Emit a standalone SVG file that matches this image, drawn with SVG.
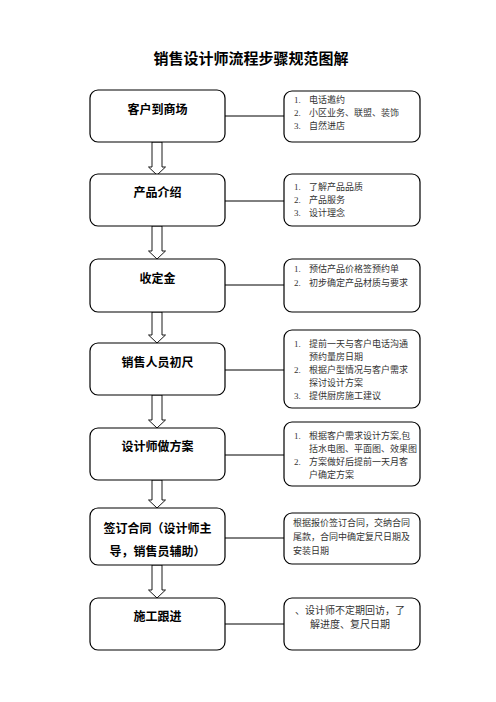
<svg xmlns="http://www.w3.org/2000/svg" width="496" height="702" viewBox="0 0 496 702">
<style>
.box{fill:#fff;stroke:#000;stroke-width:1.2}
.ln{stroke:#000;stroke-width:1;fill:none}
.arr{fill:#fff;stroke:#000;stroke-width:0.9;stroke-linejoin:miter}
.t{font-family:"Liberation Sans","Noto Sans CJK SC",sans-serif;font-weight:bold;font-size:12px;fill:#000;text-anchor:middle}
.r{font-family:"Liberation Serif","Noto Sans CJK SC",serif;font-size:9px;fill:#333}
.title{font-family:"Liberation Sans","Noto Sans CJK SC",sans-serif;font-weight:bold;font-size:15px;text-anchor:middle;fill:#000}
</style>
<rect width="496" height="702" fill="#fff"/>
<text class="title" x="251" y="64">销售设计师流程步骤规范图解</text>
<g id="connectors">
<line class="ln" x1="225" y1="116" x2="284" y2="116"/>
<line class="ln" x1="225" y1="201" x2="284" y2="201"/>
<line class="ln" x1="225" y1="285" x2="284" y2="285"/>
<line class="ln" x1="225" y1="370" x2="284" y2="370"/>
<line class="ln" x1="225" y1="455" x2="284" y2="455"/>
<line class="ln" x1="225" y1="538" x2="284" y2="538"/>
<line class="ln" x1="225" y1="624" x2="284" y2="624"/>
<path class="arr" d="M152,142 V167 H148.5 L157,175 L165.5,167 H162 V142 Z"/>
<path class="arr" d="M152,226 V251 H148.5 L157,259 L165.5,251 H162 V226 Z"/>
<path class="arr" d="M152,312 V335 H148.5 L157,343 L165.5,335 H162 V312 Z"/>
<path class="arr" d="M152,395 V420 H148.5 L157,428 L165.5,420 H162 V395 Z"/>
<path class="arr" d="M152,480 V500 H148.5 L157,508 L165.5,500 H162 V480 Z"/>
<path class="arr" d="M152,565 V590 H148.5 L157,598 L165.5,590 H162 V565 Z"/>
</g>
<g id="n1">
<rect class="box" x="90" y="90" width="135" height="52" rx="8"/>
<text class="t" x="157.5" y="114">客户到商场</text>
</g>
<g id="d1">
<rect class="box" x="284" y="91" width="136" height="51" rx="8"/>
<text class="r" x="294" y="103">1.</text><text class="r" x="309" y="103">电话邀约</text>
<text class="r" x="294" y="116">2.</text><text class="r" x="309" y="116">小区业务、联盟、装饰</text>
<text class="r" x="294" y="129">3.</text><text class="r" x="309" y="129">自然进店</text>
</g>
<g id="n2">
<rect class="box" x="90" y="174" width="135" height="52" rx="8"/>
<text class="t" x="157.5" y="197">产品介绍</text>
</g>
<g id="d2">
<rect class="box" x="284" y="174" width="136" height="52" rx="8"/>
<text class="r" x="294" y="190">1.</text><text class="r" x="309" y="190">了解产品品质</text>
<text class="r" x="294" y="203">2.</text><text class="r" x="309" y="203">产品服务</text>
<text class="r" x="294" y="216">3.</text><text class="r" x="309" y="216">设计理念</text>
</g>
<g id="n3">
<rect class="box" x="90" y="259" width="135" height="53" rx="8"/>
<text class="t" x="157.5" y="283">收定金</text>
</g>
<g id="d3">
<rect class="box" x="284" y="259" width="136" height="53" rx="8"/>
<text class="r" x="294" y="272">1.</text><text class="r" x="309" y="272">预估产品价格签预约单</text>
<text class="r" x="294" y="286">2.</text><text class="r" x="309" y="286">初步确定产品材质与要求</text>
</g>
<g id="n4">
<rect class="box" x="90" y="343" width="135" height="52" rx="8"/>
<text class="t" x="157.5" y="367">销售人员初尺</text>
</g>
<g id="d4">
<rect class="box" x="284" y="330" width="136" height="78" rx="8"/>
<text class="r" x="294" y="347">1.</text><text class="r" x="309" y="347">提前一天与客户电话沟通</text>
<text class="r" x="309" y="360">预约量房日期</text>
<text class="r" x="294" y="373">2.</text><text class="r" x="309" y="373">根据户型情况与客户需求</text>
<text class="r" x="309" y="386">探讨设计方案</text>
<text class="r" x="294" y="399">3.</text><text class="r" x="309" y="399">提供厨房施工建议</text>
</g>
<g id="n5">
<rect class="box" x="90" y="428" width="135" height="52" rx="8"/>
<text class="t" x="157.5" y="451">设计师做方案</text>
</g>
<g id="d5">
<rect class="box" x="284" y="422" width="136" height="64" rx="8"/>
<text class="r" x="294" y="439">1.</text><text class="r" x="309" y="439">根据客户需求设计方案,包</text>
<text class="r" x="309" y="452">括水电图、平面图、效果图</text>
<text class="r" x="294" y="465">2.</text><text class="r" x="309" y="465">方案做好后提前一天月客</text>
<text class="r" x="309" y="478">户确定方案</text>
</g>
<g id="n6">
<rect class="box" x="90" y="508" width="135" height="57" rx="8"/>
<text class="t" x="157.5" y="533">签订合同（设计师主</text>
<text class="t" x="157.5" y="556">导，销售员辅助）</text>
</g>
<g id="d6">
<rect class="box" x="284" y="513" width="136" height="51" rx="8"/>
<text class="r" x="293" y="526">根据报价签订合同，交纳合同</text>
<text class="r" x="293" y="540">尾款，合同中确定复尺日期及</text>
<text class="r" x="293" y="554">安装日期</text>
</g>
<g id="n7">
<rect class="box" x="90" y="598" width="135" height="52" rx="8"/>
<text class="t" x="157.5" y="621">施工跟进</text>
</g>
<g id="d7">
<rect class="box" x="284" y="598" width="136" height="52" rx="8"/>
<text class="r" x="350" y="614" text-anchor="middle" style="font-size:10px">、设计师不定期回访，了</text>
<text class="r" x="350" y="628" text-anchor="middle" style="font-size:10px">解进度、复尺日期</text>
</g>
</svg>
